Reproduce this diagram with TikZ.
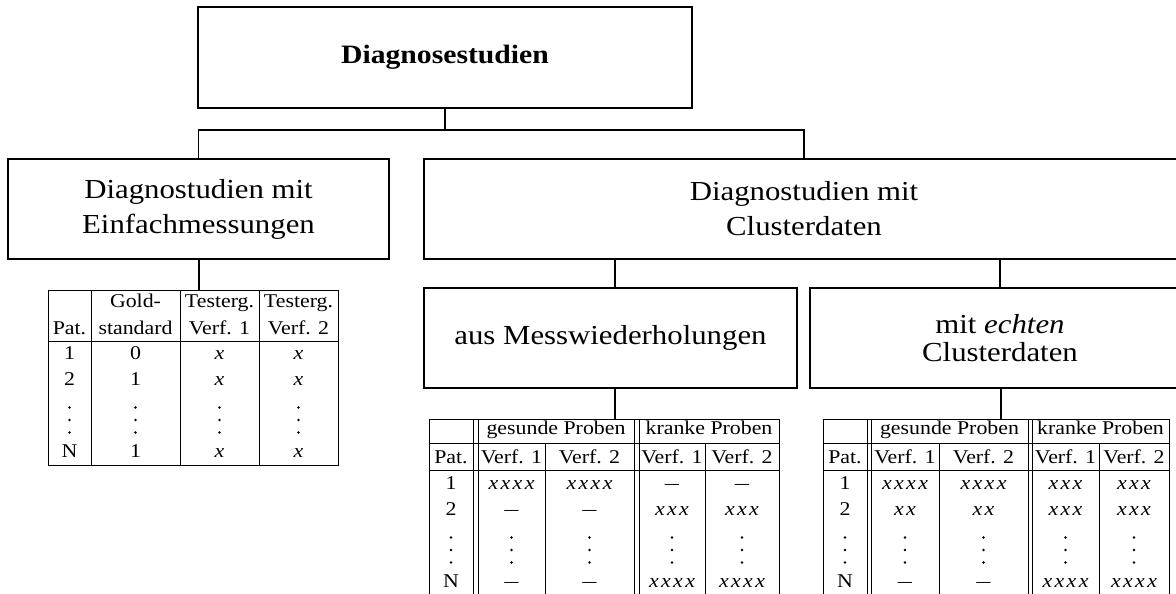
\documentclass[tikz,border=0pt]{standalone}
\usepackage{fontspec}
\setmainfont{Liberation Serif}[FakeStretch=1.12]
\newcommand\xk{\kern2.4pt}
\newcommand\xii{\textit{x\xk x}}
\newcommand\xiii{\textit{x\xk x\xk x}}
\newcommand\xiv{\textit{x\xk x\xk x\xk x}}
\newcommand\dsh{\scalebox{0.65}[1]{—}}
\tikzset{
  box/.style={draw, line width=1.3pt, minimum height=100pt, align=center, inner sep=0pt, font=\fontsize{27.5}{35}\selectfont},
  conn/.style={line width=1.3pt},
  grid/.style={line width=0.8pt},
  cell/.style={anchor=base, inner sep=0pt, font=\fontsize{19.5}{26}\selectfont},
  vdot/.style={fill=black, draw=none},
}
\newcommand\vdotsat[2]{\foreach \dy in {-12.5,0,12.5} \fill[vdot] (#1,#2+\dy) circle (1.4pt);}
\begin{document}
\begin{tikzpicture}[x=1pt,y=-1pt]
\useasboundingbox (0,0) rectangle (1176,594);
\clip (0,0) rectangle (1176,594);
\fill[white] (0,0) rectangle (1176,594);

% boxes
\node[box, minimum width=494pt, minimum height=101pt, font=\fontsize{26.5}{30}\selectfont\bfseries] (top) at (445,57.5) {Diagnosestudien};
\node[box, minimum width=381pt] (einf) at (198.5,209) {Diagnostudien mit\\Einfachmessungen};
\node[box, minimum width=760pt] (clus) at (804,209) {Diagnostudien mit\\Clusterdaten};
\node[box, minimum width=373pt] (mess) at (610.5,338) {aus Messwiederholungen};
\node[box, minimum width=380pt, font=\fontsize{27.5}{28}\selectfont] (echt) at (1000,338) {mit \emph{echten}\\Clusterdaten};

% connectors
\coordinate (bus) at (445,130);
\draw[conn] (top.south) -- (bus);
\draw[conn] (bus) -| (einf.north);
\draw[conn] (bus) -| (clus.north);
\coordinate (d2) at (615,0);
\draw[conn] (clus.south -| d2) -- (mess.north -| d2);
\draw[conn] (clus.south -| echt.north) -- (echt.north);
\coordinate (t1) at (199,290);
\coordinate (t2) at (615,419);
\coordinate (t3) at (1001,419);
\draw[conn] (einf.south -| t1) -- (t1);
\draw[conn] (mess.south -| t2) -- (t2);
\draw[conn] (echt.south -| t3) -- (t3);

% ---------- table 1 ----------
\draw[grid] (48,290) rectangle (338,465);
\draw[grid] (48,341) -- (338,341);
\foreach \x in {91,180,259} \draw[grid] (\x,290) -- (\x,465);
\node[cell] (t1-h1) at (69.5,334) {Pat.};
\node[cell] (t1-h2a) at (135.5,307) {Gold-};
\node[cell] (t1-h2b) at (135.5,334) {standard};
\node[cell] (t1-h3a) at (219.5,307) {Testerg.};
\node[cell] (t1-h3b) at (219.5,334) {Verf. 1};
\node[cell] (t1-h4a) at (298.5,307) {Testerg.};
\node[cell] (t1-h4b) at (298.5,334) {Verf. 2};
\foreach \a/\b/\y/\r in {1/0/359/1, 2/1/385/2, N/1/457/3} {
  \node[cell] (t1-\r-1) at (69.5,\y) {\a};
  \node[cell] (t1-\r-2) at (135.5,\y) {\b};
  \node[cell] (t1-\r-3) at (219.5,\y) {\textit{x}};
  \node[cell] (t1-\r-4) at (298.5,\y) {\textit{x}};
}
\foreach \xc in {69.5,135.5,219.5,298.5} {\vdotsat{\xc}{420}}

% ---------- table 2 ----------
\draw[grid] (429,600) -- (429,419) -- (779,419) -- (779,600);
\draw[grid] (429,443) -- (779,443);
\draw[grid] (429,470) -- (779,470);
\foreach \x in {473,478,634,639} \draw[grid] (\x,419) -- (\x,600);
\foreach \x in {545,705} \draw[grid] (\x,443) -- (\x,600);
\node[cell] (t2-g) at (556,434) {gesunde Proben};
\node[cell] (t2-k) at (709,434) {kranke Proben};
\foreach \t/\xc [count=\c] in {Pat./451, Verf. 1/511.5, Verf. 2/589.5, Verf. 1/672, Verf. 2/742}
  \node[cell] (t2-h-\c) at (\xc,463) {\t};
\foreach \a/\b/\cc/\d/\e/\y/\r in {1/\xiv/\xiv/\dsh/\dsh/489/1, 2/\dsh/\dsh/\xiii/\xiii/515/2, N/\dsh/\dsh/\xiv/\xiv/587/3} {
  \node[cell] (t2-\r-1) at (451,\y) {\a};
  \node[cell] (t2-\r-2) at (511.5,\y) {\b};
  \node[cell] (t2-\r-3) at (589.5,\y) {\cc};
  \node[cell] (t2-\r-4) at (672,\y) {\d};
  \node[cell] (t2-\r-5) at (742,\y) {\e};
}
\foreach \xc in {451,511.5,589.5,672,742} {\vdotsat{\xc}{550}}

% ---------- table 3 ----------
\draw[grid] (823,600) -- (823,419) -- (1169,419) -- (1169,600);
\draw[grid] (823,443) -- (1169,443);
\draw[grid] (823,470) -- (1169,470);
\foreach \x in {867,871,1028,1032} \draw[grid] (\x,419) -- (\x,600);
\foreach \x in {939,1099} \draw[grid] (\x,443) -- (\x,600);
\node[cell] (t3-g) at (949.5,434) {gesunde Proben};
\node[cell] (t3-k) at (1100.5,434) {kranke Proben};
\foreach \t/\xc [count=\c] in {Pat./845, Verf. 1/905, Verf. 2/983.5, Verf. 1/1065.5, Verf. 2/1134}
  \node[cell] (t3-h-\c) at (\xc,463) {\t};
\foreach \a/\b/\cc/\d/\e/\y/\r in {1/\xiv/\xiv/\xiii/\xiii/489/1, 2/\xii/\xii/\xiii/\xiii/515/2, N/\dsh/\dsh/\xiv/\xiv/587/3} {
  \node[cell] (t3-\r-1) at (845,\y) {\a};
  \node[cell] (t3-\r-2) at (905,\y) {\b};
  \node[cell] (t3-\r-3) at (983.5,\y) {\cc};
  \node[cell] (t3-\r-4) at (1065.5,\y) {\d};
  \node[cell] (t3-\r-5) at (1134,\y) {\e};
}
\foreach \xc in {845,905,983.5,1065.5,1134} {\vdotsat{\xc}{550}}
\end{tikzpicture}
\end{document}
